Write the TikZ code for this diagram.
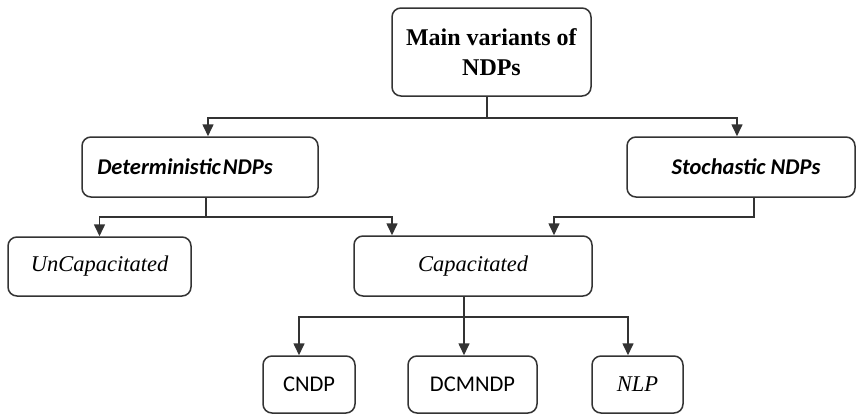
\documentclass[tikz,border=0pt]{standalone}
\usepackage{fontspec}
\setmainfont{Liberation Serif}
\newfontfamily\calib{Carlito}
\usetikzlibrary{arrows.meta}
\definecolor{ink}{HTML}{333333}
\tikzset{
  box/.style={draw=ink, line width=1.5pt, rounded corners=9pt, align=center,
    inner sep=0pt, font=\fontsize{22.5}{27}\selectfont},
  conn/.style={draw=ink, line width=1.6pt},
  arr/.style={conn, -{Triangle[width=11pt,length=12pt]}}
}
\begin{document}
\begin{tikzpicture}[x=1pt,y=-1pt]
\useasboundingbox (0,0) rectangle (858,415);

% boxes
\node[box, minimum width=199pt, minimum height=88pt, font=\fontsize{24}{30}\selectfont] (main) at (491.5,52)
  {\textbf{Main variants of}\\\textbf{NDPs}};
\node[box, minimum width=236pt, minimum height=60pt] (det) at (200,167)
  {\hspace*{-30pt}\calib\bfseries\itshape Deterministic\hspace{2pt}NDPs};
\node[box, minimum width=228pt, minimum height=60pt] (sto) at (741,167)
  {\hspace*{10pt}\calib\bfseries\itshape Stochastic NDPs};
\node[box, minimum width=183pt, minimum height=59pt] (unc) at (99.5,266.5)
  {\itshape UnCapacitated};
\node[box, minimum width=238pt, minimum height=60pt] (cap) at (473,266)
  {\itshape Capacitated};
\node[box, minimum width=92pt, minimum height=57pt] (cndp) at (309,384.5)
  {\calib CNDP};
\node[box, minimum width=129pt, minimum height=57pt] (dcm) at (472.5,384.5)
  {\calib DCMNDP};
\node[box, minimum width=91pt, minimum height=57pt] (nlp) at (637.5,384.5)
  {\itshape NLP};

% level 1
\draw[conn] ([xshift=-4.5pt]main.south) -- ++(0,21) coordinate (j1);
\draw[arr] (j1) -| ([xshift=8pt]det.north);
\draw[arr] (j1) -| ([xshift=-4pt]sto.north);

% level 2 from deterministic
\draw[conn] ([xshift=6pt]det.south) -- ++(0,19) coordinate (j2);
\draw[arr] (j2) -| (unc.north);
\draw[arr] (j2) -| ([xshift=-81pt]cap.north);

% level 2 from stochastic
\draw[arr] ([xshift=13pt]sto.south) |- ++(-200,19) -- ([xshift=81pt]cap.north);

% level 3
\draw[conn] ([xshift=-9pt]cap.south) -- ++(0,20) coordinate (j3);
\draw[arr] (j3) -| ([xshift=-10pt]cndp.north);
\draw[arr] (j3) -- (j3 |- dcm.north);
\draw[arr] (j3) -| ([xshift=-9.5pt]nlp.north);
\end{tikzpicture}
\end{document}
